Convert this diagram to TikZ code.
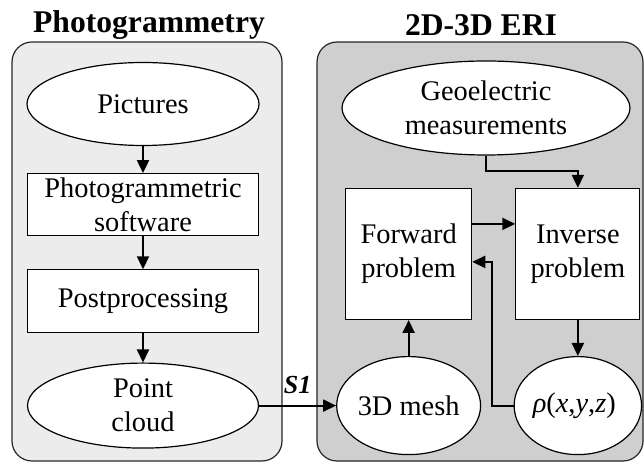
\documentclass[tikz,border=0pt]{standalone}
\usepackage{fontspec}
\setmainfont{Liberation Serif}
\usetikzlibrary{positioning, arrows.meta, shapes.geometric}
\tikzstyle{oval} = [
  ellipse, inner sep=0pt,
  text centered, align=center,
  draw=black, line width=0.6pt, fill=white
]
\tikzstyle{process} = [
  rectangle, inner sep=0pt,
  text centered, align=center,
  draw=black, line width=0.6pt, fill=white
]
\tikzstyle{panel} = [
  draw=black!85, line width=0.6pt, rounded corners=10pt
]
\tikzstyle{title} = [
  font=\fontsize{15.8}{19}\selectfont\bfseries
]
\tikzset{
  arrow/.style={
    line width=1pt,
    -{Triangle[length=6.5pt,width=6pt]}
  }
}

\begin{document}
\begin{tikzpicture}[
  x=0.5pt, y=-0.5pt,
  font=\fontsize{14.2}{17}\selectfont
]
\useasboundingbox (0,0) rectangle (644,464);

% ------------------------------------------------
% PANELES (fondo)
% ------------------------------------------------
\draw[panel, fill=gray!15] (12,42) rectangle (282,461);
\draw[panel, fill=gray!38] (317,42) rectangle (643,461);

\node[title] (t1) at (149,25) {Photogrammetry};
\node[title] (t2) at (481,25) {2D-3D ERI};

% ------------------------------------------------
% COLUMNA IZQUIERDA: fotogrametria
% ------------------------------------------------

% pic: Pictures
\node[oval, minimum width=116pt, minimum height=41.5pt] (pic) at (143,104) {Pictures};

% soft: software
\node[process, minimum width=115.5pt, minimum height=31pt, below=13.5pt of pic] (soft) {%
  Photogrammetric\\
  software
};

% post: Postprocessing
\node[process, minimum width=115.5pt, minimum height=31.5pt, below=16.5pt of soft] (post) {Postprocessing};

% cloud: Point cloud
\node[oval, minimum width=115.5pt, minimum height=42.5pt, below=14.5pt of post] (cloud) {%
  Point\\
  cloud
};

% ------------------------------------------------
% COLUMNA DERECHA: ERI
% ------------------------------------------------

% geo: medidas
\node[oval, minimum width=144pt, minimum height=47pt] (geo) at (486,108) {%
  Geoelectric\\
  measurements
};

% mesh: 3D mesh (a la derecha de cloud)
\node[oval, minimum width=63.5pt, minimum height=49pt, right=38.5pt of cloud] (mesh) {3D mesh};

% fwd: Forward problem (encima de mesh)
\node[process, minimum width=63pt, minimum height=65.5pt, above=18pt of mesh] (fwd) {%
  Forward\\
  problem
};

% inv: Inverse problem (a la derecha de fwd)
\node[process, minimum width=62pt, minimum height=65.5pt, right=21.5pt of fwd] (inv) {%
  Inverse\\
  problem
};

% rho: resistividad (debajo de inv)
\node[oval, minimum width=62.5pt, minimum height=49pt, below=18pt of inv] (rho) {%
  \textit{ρ}(\textit{x},\textit{y},\textit{z})
};

% ------------------------------------------------
% FLECHAS
% ------------------------------------------------
\draw[arrow] (pic) -- (soft);
\draw[arrow] (soft) -- (post);
\draw[arrow] (post) -- (cloud);

% S1 entre paneles
\draw[arrow] (cloud) -- node[above=2pt, font=\fontsize{13}{15}\selectfont\bfseries\itshape] {S1} (mesh);

\draw[arrow] (geo.south) -- ++(0,15) -| (inv.north);
\draw[arrow] ([yshift=15pt]fwd.east) -- ([yshift=15pt]inv.west);
\draw[arrow] (inv) -- (rho);
\draw[arrow] (mesh) -- (fwd);
\draw[arrow] (rho.west) -- ++(-22,0) |- ([yshift=-4pt]fwd.east);

\end{tikzpicture}
\end{document}
